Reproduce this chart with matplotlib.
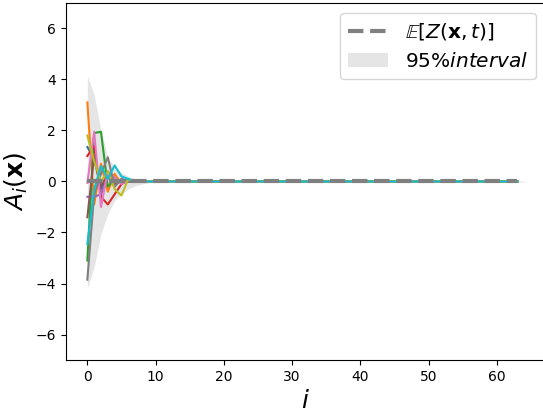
import numpy as np
import matplotlib.pyplot as plt

# index of the coefficient
n = 64
idx = np.arange(n)
idx_band = np.arange(n + 1)

# first ten values of each sampled path, rest stay at zero
head = [
    [1.35, 0.9, -0.3, 0.2, -0.15, 0.05, 0.02, 0.0, 0.0, 0.0],
    [3.1, -0.9, 0.7, -0.4, 0.3, -0.1, 0.05, 0.0, 0.0, 0.0],
    [-3.1, 1.9, 1.95, -0.2, 0.1, -0.05, 0.0, 0.0, 0.0, 0.0],
    [1.0, 1.4, -0.6, -0.9, -0.5, -0.1, 0.05, 0.0, 0.0, 0.0],
    [-0.6, -0.6, -0.5, 0.2, -0.2, 0.1, 0.0, 0.0, 0.0, 0.0],
    [-1.4, 1.0, -0.2, 0.3, -0.1, 0.05, 0.0, 0.0, 0.0, 0.0],
    [-0.05, 1.95, -1.0, 0.4, 0.15, -0.1, 0.05, 0.0, 0.0, 0.0],
    [-3.85, -0.5, 0.3, 0.95, -0.2, 0.1, 0.0, 0.0, 0.0, 0.0],
    [1.8, 0.8, 0.0, 0.4, -0.3, -0.55, 0.1, 0.0, 0.0, 0.0],
    [-2.45, -0.3, 0.6, 0.1, 0.63, 0.2, 0.1, 0.0, 0.0, 0.0],
]
# 95% band edges for the first ten indices
upper_head = [4.15, 3.4, 2.0, 0.95, 0.56, 0.36, 0.2, 0.1, 0.05, 0.03]
lower_head = [-4.2, -3.35, -2.05, -1.27, -0.75, -0.48, -0.3, -0.17, -0.1, -0.05]

samples = np.zeros((len(head), n))
for k, h in enumerate(head):
    samples[k, :len(h)] = h
upper = np.full(n + 1, 0.02)
upper[:len(upper_head)] = upper_head
lower = np.full(n + 1, -0.02)
lower[:len(lower_head)] = lower_head
mean = np.zeros(n)

fig = plt.figure(figsize=(5.43, 4.12), dpi=100)
ax = fig.add_axes([65.5/543, 1-360/412, (546-65.5)/543, 357/412])

ax.fill_between(idx_band, lower, upper, color='gray', alpha=0.2, linewidth=0,
                label=r'$95\%interval$')
for k in range(len(samples)):
    ax.plot(idx, samples[k], color='C%d' % k, lw=1.5)
ax.plot(idx, mean, '--', color='gray', lw=3, label=r'$\mathbb{E}[Z(\mathbf{x},t)]$')

ax.set_ylim(-7, 7)
ax.set_yticks([-6, -4, -2, 0, 2, 4, 6])
ax.set_xlabel('$i$', fontsize=18)
ax.set_ylabel(r'$A_i(\mathbf{x})$', fontsize=18)
h, l = ax.get_legend_handles_labels()
ax.legend([h[1], h[0]], [l[1], l[0]], loc='upper right', fontsize=14.5)

fig.savefig('out.png', dpi=100)
